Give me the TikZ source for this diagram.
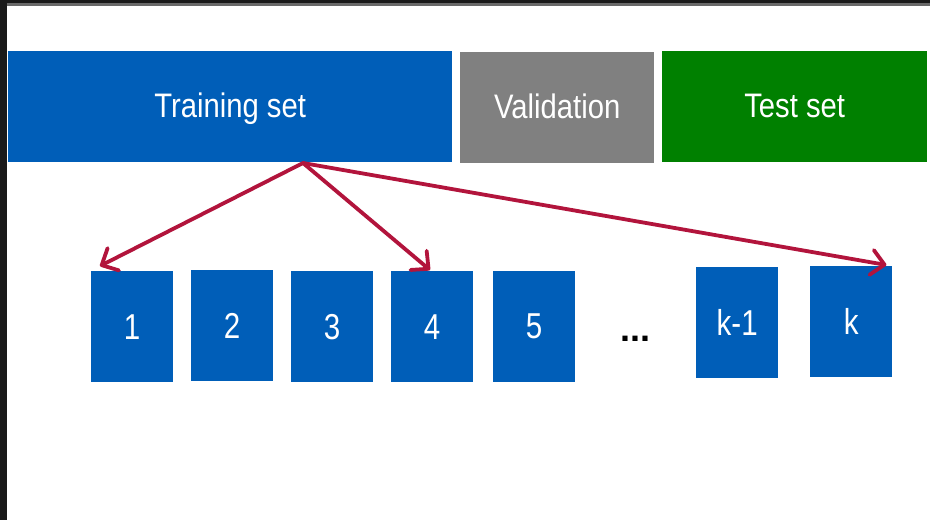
\documentclass[tikz,border=0pt]{standalone}
\usepackage{fontspec}
\setmainfont{Liberation Sans}
\newfontfamily\labelfont[FakeStretch=0.86]{Liberation Sans}
\newfontfamily\digitfont[FakeStretch=0.82]{Liberation Sans}
\usetikzlibrary{arrows.meta}
\definecolor{foldblue}{RGB}{0,94,184}
\definecolor{valgray}{RGB}{128,128,128}
\definecolor{testgreen}{RGB}{0,128,0}
\definecolor{arrowred}{RGB}{178,20,60}
\definecolor{frameblack}{RGB}{26,26,26}
\definecolor{framegray}{RGB}{105,105,105}
\begin{document}
\begin{tikzpicture}[x=1pt,y=-1pt,
  setbox/.style={anchor=north west,inner sep=0pt,text=white,
    text height=26pt,text depth=4pt,minimum height=111pt,
    font=\labelfont\fontsize{34}{34}\selectfont},
  foldbox/.style={anchor=north west,inner sep=0pt,fill=foldblue,text=white,
    minimum width=82pt,minimum height=111pt,
    font=\digitfont\fontsize{36}{36}\selectfont},
  splitarrow/.style={draw=arrowred,line width=3.8pt,line cap=round,
    -{Straight Barb[length=13pt,width=25pt,line width=3.8pt,round]}}]
\useasboundingbox (0,0) rectangle (930,520);
\fill[white] (0,0) rectangle (930,520);
% dark window frame along the top and left edges
\fill[frameblack] (0,0) rectangle (930,3);
\fill[framegray] (7,3) rectangle (930,6);
\fill[frameblack] (0,0) rectangle (7,520);

% data split
\node[setbox,fill=foldblue,minimum width=444pt] (train) at (8,51) {Training set};
\node[setbox,fill=valgray,minimum width=194pt] (valid) at (460,52) {Validation};
\node[setbox,fill=testgreen,minimum width=265pt] (test) at (662,51) {Test set};

% folds
\node[foldbox] (f1) at (91,271) {1};
\node[foldbox] (f2) at (191,270) {2};
\node[foldbox] (f3) at (291,271) {3};
\node[foldbox] (f4) at (391,271) {4};
\node[foldbox] (f5) at (493,271) {5};
\node[font=\bfseries\fontsize{36}{36}\selectfont,inner sep=0pt,anchor=base] (dots) at (635,341) {...};
\node[foldbox] (fk1) at (696,267) {k-1};
\node[foldbox] (fk) at (810,266) {k};

\coordinate (src) at (303,163);
\draw[splitarrow] (src) -- ([xshift=9pt,yshift=5pt]f1.north west);
\draw[splitarrow] (src) -- ([xshift=39pt,yshift=1pt]f4.north west);
\draw[splitarrow] (src) -- ([xshift=-6pt,yshift=1pt]fk.north east);
\end{tikzpicture}
\end{document}
